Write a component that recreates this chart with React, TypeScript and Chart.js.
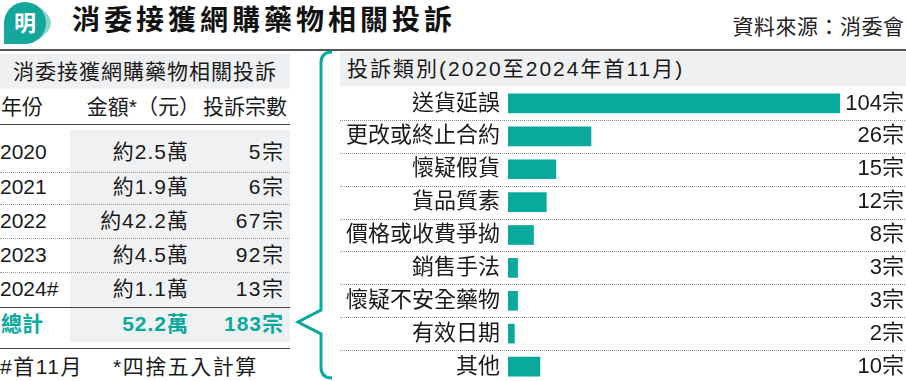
import React, { useEffect, useRef } from "react";
import { Chart, registerables } from "chart.js";

Chart.register(...registerables);

// ---- data ----
const categories = ["送貨延誤", "更改或終止合約", "懷疑假貨", "貨品質素", "價格或收費爭拗", "銷售手法", "懷疑不安全藥物", "有效日期", "其他"];
const counts = [104, 26, 15, 12, 8, 3, 3, 2, 10];
const years = ["2020", "2021", "2022", "2023", "2024#"];
const amounts = ["約2.5萬", "約1.9萬", "約42.2萬", "約4.5萬", "約1.1萬"];
const yearCounts = [5, 6, 67, 92, 13];
const totalAmount = "52.2萬";
const totalCount = 183;
const unit = "宗";

const FONT = "'Liberation Sans', 'Noto Sans CJK TC', sans-serif";
const TEAL = "#0aa99e";

type TProps = { x: number; y: number; size: number; align?: "left" | "right" | "center"; bold?: boolean; color?: string; spacing?: number; w?: number; children: React.ReactNode };
function T({ x, y, size, align = "left", bold, color = "#1a1a1a", spacing = 0, w = 400, children }: TProps) {
  const st: React.CSSProperties = {
    position: "absolute",
    top: y - size,
    height: size * 2,
    lineHeight: size * 2 + "px",
    fontSize: size,
    fontWeight: bold ? 700 : 400,
    color,
    letterSpacing: spacing,
    whiteSpace: "nowrap",
  };
  if (align === "left") st.left = x;
  else if (align === "right") { st.left = x - w + spacing; st.width = w; st.textAlign = "right"; }
  else { st.left = x - w / 2; st.width = w; st.textAlign = "center"; }
  return <div style={st}>{children}</div>;
}

function HLine({ x, y, w, dotted, color }: { x: number; y: number; w: number; dotted?: boolean; color?: string }) {
  return <div style={{ position: "absolute", left: x, top: y, width: w, height: 0, borderTop: `1px ${dotted ? "dotted" : "solid"} ${color || (dotted ? "#999" : "#444")}` }} />;
}

function BarChart() {
  const ref = useRef<HTMLCanvasElement | null>(null);
  useEffect(() => {
    if (!ref.current) return;
    const rowPlugin = {
      id: "rows",
      afterDatasetsDraw(chart: any) {
        const { ctx, scales } = chart;
        const y = scales.y;
        ctx.save();
        ctx.strokeStyle = "#8c8c8c";
        ctx.lineWidth = 1;
        ctx.setLineDash([1, 1]);
        for (let i = 0; i < categories.length - 1; i++) {
          const yy = Math.round((y.getPixelForValue(i) + y.getPixelForValue(i + 1)) / 2) + 0.5;
          ctx.beginPath();
          ctx.moveTo(0, yy);
          ctx.lineTo(chart.width, yy);
          ctx.stroke();
        }
        ctx.setLineDash([]);
        ctx.font = `22px ${FONT}`;
        ctx.textAlign = "right";
        ctx.textBaseline = "middle";
        ctx.fillStyle = "#1a1a1a";
        counts.forEach((v, i) => ctx.fillText(v + unit, chart.width - 2, y.getPixelForValue(i)));
        ctx.restore();
      },
    };
    const chart = new Chart(ref.current, {
      type: "bar",
      data: {
        labels: categories,
        datasets: [{ data: counts, backgroundColor: TEAL, borderWidth: 0, barThickness: 19 }],
      },
      options: {
        indexAxis: "y",
        responsive: false,
        animation: false,
        layout: { padding: { left: 0, right: 66, top: 0, bottom: 0 } },
        plugins: { legend: { display: false }, tooltip: { enabled: false } },
        scales: {
          x: { display: false, min: 0, max: 104 },
          y: {
            grid: { display: false, drawTicks: false },
            border: { display: false },
            ticks: { color: "#1a1a1a", padding: 8, font: { size: 22, family: FONT } },
            afterFit: (s: any) => {
              s.width = 168;
              s.paddingTop = 0;
              s.paddingBottom = 0;
            },
          },
        },
      },
      plugins: [rowPlugin],
    });
    return () => chart.destroy();
  }, []);
  return <canvas ref={ref} width={566} height={296} style={{ position: "absolute", left: 340, top: 87, width: 566, height: 296 }} />;
}

export default function App() {
  const rowY = [152, 187, 221, 255, 289];
  const dotY = [172, 204, 238, 272];
  return (
    <div style={{ position: "fixed", left: 0, top: 0, width: 906, height: 381, overflow: "hidden", background: "#fff", fontFamily: FONT }}>
      {/* header */}
      <svg width={66} height={48} style={{ position: "absolute", left: 0, top: 0 }}>
        <path d="M 36 5 Q 66 23 36 41 Q 50 23 36 5 Z" fill="#8fd4cd" />
        <path d="M 4 23 A 21 21 0 1 1 25 44 L 4 44 Z" fill="#14a79c" />
        <text x={25} y={31} textAnchor="middle" fontSize={22} fontWeight={700} fill="#fff" fontFamily="'Noto Sans CJK TC'">明</text>
      </svg>
      <T x={72} y={21} size={28} bold spacing={4} color="#111">消委接獲網購藥物相關投訴</T>
      <T x={904} y={27} size={21} align="right" spacing={0.5} color="#222">資料來源：消委會</T>
      <div style={{ position: "absolute", left: 0, top: 49, width: 906, height: 2, background: "#555" }} />

      {/* left table */}
      <div style={{ position: "absolute", left: 0, top: 54, width: 290, height: 35, background: "#eef0f2" }} />
      <T x={145} y={72} size={21} align="center" spacing={1} w={290}>消委接獲網購藥物相關投訴</T>
      <T x={1} y={107} size={21}>年份</T>
      <T x={200} y={107} size={21} align="right">金額*（元）</T>
      <T x={287} y={107} size={21} align="right">投訴宗數</T>
      <HLine x={0} y={124} w={290} />
      <div style={{ position: "absolute", left: 70, top: 130, width: 220, height: 212, background: "#f0f1f3" }} />
      {dotY.map((y, i) => <HLine key={i} x={0} y={y} w={290} dotted />)}
      {years.map((yr, i) => (
        <React.Fragment key={yr}>
          <T x={0} y={rowY[i]} size={21}>{yr}</T>
          <T x={188} y={rowY[i]} size={21} spacing={1} align="right">{amounts[i]}</T>
          <T x={283} y={rowY[i]} size={21} spacing={1.5} align="right">{yearCounts[i] + unit}</T>
        </React.Fragment>
      ))}
      <HLine x={0} y={307} w={290} />
      <T x={1} y={324} size={21} bold color={TEAL}>總計</T>
      <T x={188} y={324} size={21} bold spacing={1} color={TEAL} align="right">{totalAmount}</T>
      <T x={283} y={324} size={21} bold spacing={1} color={TEAL} align="right">{totalCount + unit}</T>
      <HLine x={0} y={348} w={290} />
      <T x={0} y={367} size={21} spacing={1.5}>#首11月</T>
      <T x={113} y={367} size={21} spacing={1.5}>*四捨五入計算</T>

      {/* brace */}
      <svg width={906} height={381} style={{ position: "absolute", left: 0, top: 0 }}>
        <path d="M 332 52 Q 321 52 321 63 L 321 310 L 298 322 L 321 334 L 321 367 Q 321 378 332 378" stroke={TEAL} strokeWidth={3} fill="none" />
      </svg>

      {/* right chart */}
      <div style={{ position: "absolute", left: 340, top: 52, width: 566, height: 34, background: "#eef0f2" }} />
      <T x={347} y={69} size={21} spacing={2}>投訴類別(2020至2024年首11月)</T>
      <BarChart />
    </div>
  );
}
